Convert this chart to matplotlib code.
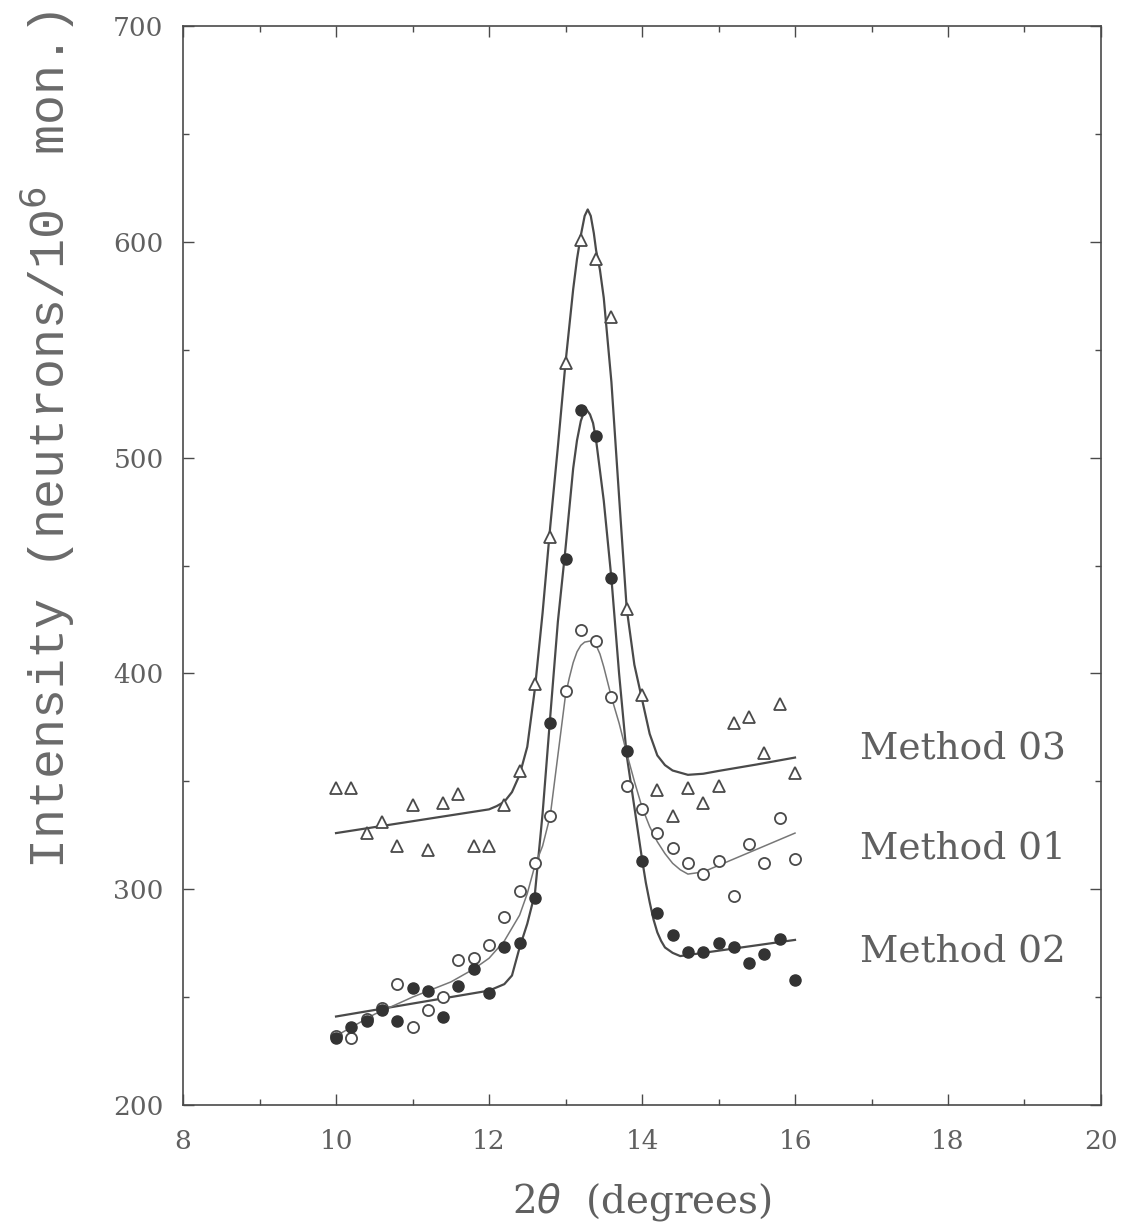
import matplotlib
matplotlib.use("Agg")
import matplotlib.pyplot as plt
from matplotlib.ticker import MultipleLocator
import numpy as np

# scattering angle of the measured points
two_theta = [10.0, 10.2, 10.4, 10.6, 10.8, 11.0, 11.2, 11.4, 11.6, 11.8,
             12.0, 12.2, 12.4, 12.6, 12.8, 13.0, 13.2, 13.4, 13.6, 13.8,
             14.0, 14.2, 14.4, 14.6, 14.8, 15.0, 15.2, 15.4, 15.6, 15.8, 16.0]

# measured intensities
method01 = [232, 231, 240, 245, 256, 236, 244, 250, 267, 268,
            274, 287, 299, 312, 334, 392, 420, 415, 389, 348,
            337, 326, 319, 312, 307, 313, 297, 321, 312, 333, 314]
method02 = [231, 236, 239, 244, 239, 254, 253, 241, 255, 263,
            252, 273, 275, 296, 377, 453, 522, 510, 444, 364,
            313, 289, 279, 271, 271, 275, 273, 266, 270, 277, 258]
method03 = [347, 347, 326, 331, 320, 339, 318, 340, 344, 320,
            320, 339, 355, 395, 463, 544, 601, 592, 565, 430,
            390, 346, 334, 347, 340, 348, 377, 380, 363, 386, 354]

# fitted curves
fit01_x = [10.0, 10.5, 11.0, 11.5, 11.8, 12.0, 12.2, 12.4, 12.5, 12.6,
           12.7, 12.8, 12.9, 13.0, 13.05, 13.1, 13.15, 13.2, 13.25, 13.32,
           13.4, 13.45, 13.5, 13.6, 13.7, 13.8, 13.9, 14.0, 14.1, 14.2,
           14.3, 14.4, 14.5, 14.6, 14.8, 15.0, 15.5, 16.0]
fit01_y = [232, 242, 250, 257, 263, 268, 276, 288, 298, 311,
           320, 334, 362, 390, 398, 405, 410, 413, 414.5, 415,
           413, 409, 403, 389, 377, 363, 350, 338, 329, 322,
           316.5, 312, 309, 307, 308, 311, 318.5, 326]

fit02_x = [10.0, 11.0, 12.0, 12.2, 12.3, 12.4, 12.5, 12.6, 12.7, 12.8,
           12.9, 13.0, 13.1, 13.15, 13.2, 13.24, 13.28, 13.32, 13.36, 13.4,
           13.5, 13.6, 13.7, 13.8, 13.9, 14.0, 14.05, 14.1, 14.15, 14.2,
           14.25, 14.3, 14.4, 14.5, 15.0, 16.0]
fit02_y = [241, 247, 253, 256, 260, 273, 284, 298, 335, 380,
           424, 458, 495, 508, 517, 521, 522, 520, 516, 508,
           480, 444, 400, 362, 338, 314, 303, 294, 286, 280,
           276, 273, 270.5, 269, 271.5, 276.5]

fit03_x = [10.0, 11.0, 12.0, 12.1, 12.2, 12.3, 12.4, 12.5, 12.6, 12.7,
           12.8, 12.9, 13.0, 13.1, 13.15, 13.2, 13.25, 13.29, 13.33, 13.37,
           13.4, 13.45, 13.5, 13.6, 13.7, 13.8, 13.9, 14.0, 14.1, 14.2,
           14.3, 14.4, 14.6, 14.8, 15.0, 15.5, 16.0]
fit03_y = [326, 331.5, 337, 338.5, 340.5, 345, 353, 366, 393, 428,
           468, 505, 544, 578, 592, 603, 612, 615, 612, 604,
           596, 587, 574, 535, 482, 430, 404, 388, 372, 362,
           357.5, 355, 353, 353.5, 354.8, 357.8, 361]

labels = ["Method 03", "Method 01", "Method 02"]
label_y = [365, 319, 271]

ink = "#4a4a4a"
txt = "#606060"

fig = plt.figure(figsize=(11.23, 12.23), dpi=100)
ax = fig.add_axes([0.163, 0.0965, 0.8174, 0.8822])

ax.plot(fit03_x, fit03_y, color=ink, lw=1.6)
ax.plot(fit02_x, fit02_y, color=ink, lw=1.6)
ax.plot(fit01_x, fit01_y, color="#777777", lw=1.1)

ax.plot(two_theta, method03, ls="none", marker="^", ms=9, mfc="white",
        mec=ink, mew=1.3)
ax.plot(two_theta, method01, ls="none", marker="o", ms=8, mfc="white",
        mec=ink, mew=1.3)
ax.plot(two_theta, method02, ls="none", marker="o", ms=8, mfc="#333333",
        mec="#333333", mew=1.0)

for lab, yy in zip(labels, label_y):
    ax.text(18.2, yy, lab, fontsize=27, family="DejaVu Serif", color=txt,
            ha="center", va="center")

ax.set_xlim(8, 20)
ax.set_ylim(200, 700)
ax.xaxis.set_major_locator(MultipleLocator(2))
ax.xaxis.set_minor_locator(MultipleLocator(1))
ax.yaxis.set_major_locator(MultipleLocator(100))
ax.yaxis.set_minor_locator(MultipleLocator(50))
ax.tick_params(which="both", direction="in", top=True, right=True,
               colors=ink, labelcolor=txt, labelsize=19, width=1.0)
ax.tick_params(which="major", length=8)
ax.tick_params(which="minor", length=4)
ax.tick_params(axis="x", which="major", pad=17)
ax.tick_params(axis="y", which="major", pad=14)
for lab in ax.get_xticklabels() + ax.get_yticklabels():
    lab.set_family("DejaVu Serif")
for sp in ax.spines.values():
    sp.set_color(ink)
    sp.set_linewidth(1.2)

ax.set_xlabel(r"2$\theta$  (degrees)", fontsize=28, family="DejaVu Serif",
              color=txt)
ax.xaxis.set_label_coords(0.5, -0.07)
ax.set_ylabel(r"Intensity (neutrons/10$^6$ mon.)", fontsize=36,
              family="Liberation Mono", color="#6a6a6a")
ax.yaxis.set_label_coords(-0.116, 0.616)

fig.savefig("out.png", dpi=100, facecolor="white")
